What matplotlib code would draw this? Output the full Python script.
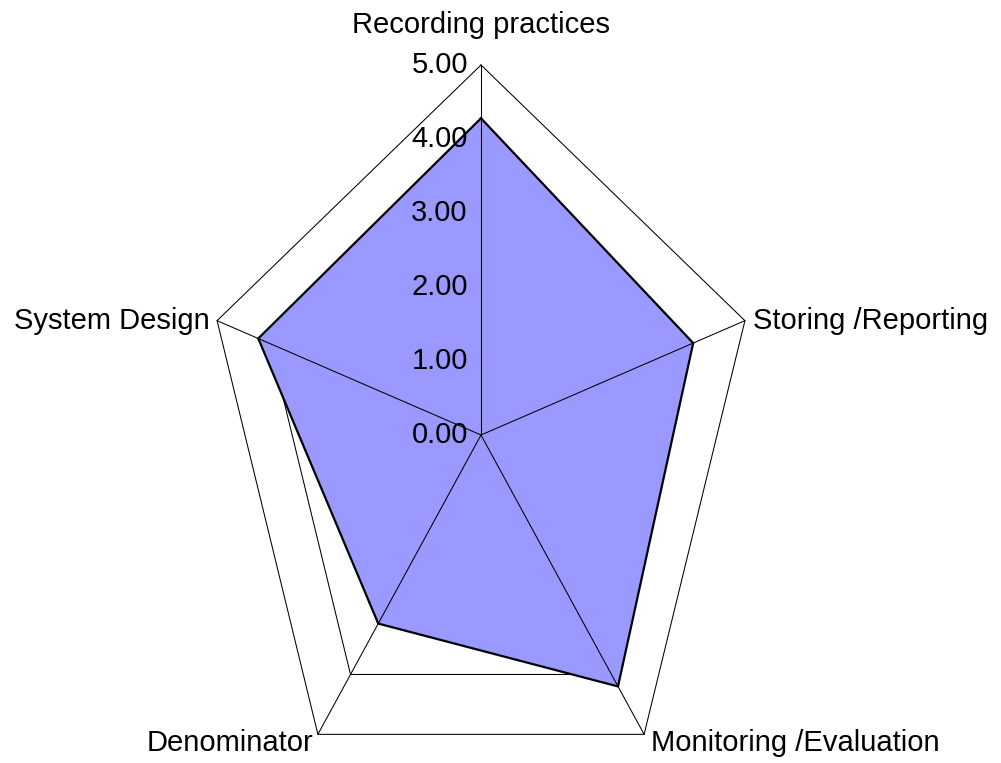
import numpy as np
import matplotlib.pyplot as plt
from matplotlib import font_manager

# Data
categories = ["Recording practices", "Storing /Reporting", "Monitoring /Evaluation",
              "Denominator", "System Design"]
values = [4.28, 4.02, 4.2, 3.15, 4.22]
levels = [0, 1, 2, 3, 4, 5]
level_labels = ["0.00", "1.00", "2.00", "3.00", "4.00", "5.00"]

names = {f.name for f in font_manager.fontManager.ttflist}
if "Liberation Sans Narrow" in names:
    fam, fs = "Liberation Sans Narrow", 24
else:
    fam, fs = "Liberation Sans", 21
plt.rcParams["font.family"] = [fam, "DejaVu Sans"]

# chart is squashed horizontally (px per unit: 55.5 in x, 74 in y)
sx, sy = 55.5, 74.0
cx, cy = 481, 435
W, H = 1001, 763

fig = plt.figure(figsize=(W / 100, H / 100), dpi=100)
ax = fig.add_axes([0, 0, 1, 1])
ax.set_xlim(-cx / sx, (W - cx) / sx)
ax.set_ylim(-(H - cy) / sy, cy / sy)
ax.axis("off")

n = len(categories)
theta = np.pi / 2 - 2 * np.pi * np.arange(n) / n
ux, uy = np.cos(theta), np.sin(theta)

def closed(a):
    return np.append(a, a[0])

# grid pentagons
for lv in levels[1:]:
    ax.plot(closed(lv * ux), closed(lv * uy), color="black", lw=0.75, zorder=1)

# data polygon
v = np.array(values)
ax.fill(v * ux, v * uy, facecolor="#9999ff", edgecolor="none", zorder=2)
ax.plot(closed(v * ux), closed(v * uy), color="black", lw=1.6, zorder=4)

# spokes
for x, y in zip(ux, uy):
    ax.plot([0, 5 * x], [0, 5 * y], color="black", lw=0.75, zorder=3)

# value labels along the top spoke
for lv, lab in zip(levels, level_labels):
    ax.annotate(lab, (0, lv), xytext=(-9.5, 0), textcoords="offset points",
                ha="right", va="center", fontsize=fs, zorder=5)

# category labels
offsets = [((0, 29), "center", "center"),
           ((6, 0), "left", "center"),
           ((5, -6), "left", "center"),
           ((-3, -6), "right", "center"),
           ((-5, 0), "right", "center")]
for name, x, y, (off, ha, va) in zip(categories, ux, uy, offsets):
    ax.annotate(name, (5 * x, 5 * y), xytext=off, textcoords="offset points",
                ha=ha, va=va, fontsize=fs, zorder=5)

fig.savefig("out.png", dpi=100)
